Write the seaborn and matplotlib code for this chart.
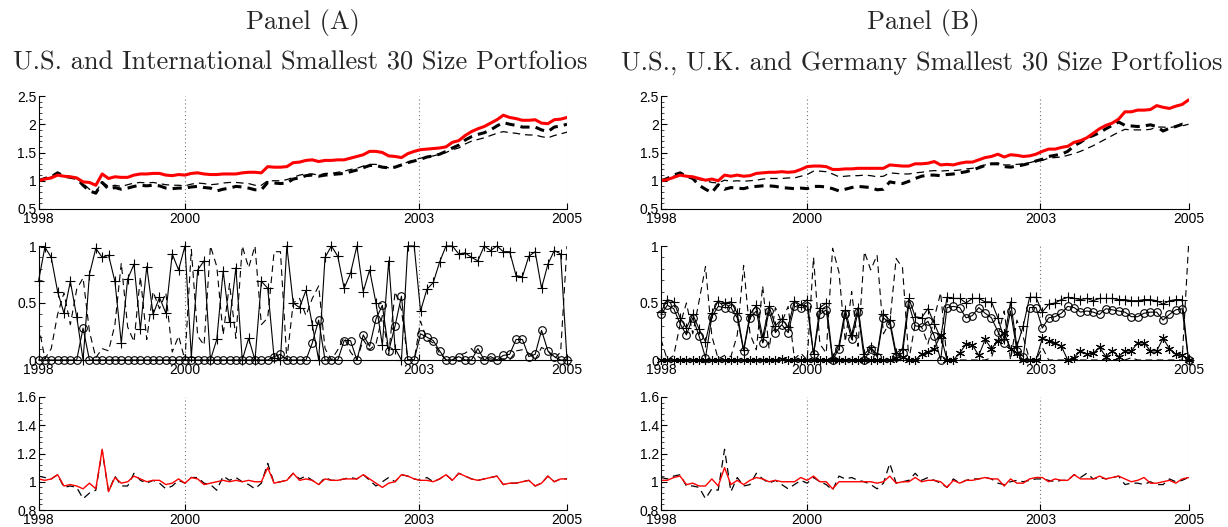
import numpy as np
import pandas as pd
import matplotlib
matplotlib.use("Agg")
import matplotlib.pyplot as plt
import seaborn as sns
from matplotlib.ticker import FixedLocator, FixedFormatter, AutoMinorLocator

# ---------------- data ----------------
months = np.arange(84)
year_tick_pos = [0, 23, 59.7, 83]
year_labels = ["1998", "2000", "2003", "2005"]

# Panel A, top: cumulative wealth
a_cum_red = [1.00, 1.03, 1.05, 1.10, 1.08, 1.07, 1.05, 0.98, 0.97, 0.92, 1.12, 1.04,
             1.07, 1.06, 1.06, 1.10, 1.12, 1.12, 1.13, 1.13, 1.10, 1.09, 1.11, 1.10,
             1.13, 1.14, 1.12, 1.11, 1.11, 1.12, 1.12, 1.12, 1.14, 1.15, 1.15, 1.14,
             1.25, 1.24, 1.24, 1.25, 1.32, 1.33, 1.36, 1.37, 1.34, 1.36, 1.36, 1.37,
             1.37, 1.40, 1.43, 1.46, 1.52, 1.52, 1.50, 1.44, 1.43, 1.41, 1.48, 1.52,
             1.55, 1.56, 1.57, 1.58, 1.60, 1.68, 1.71, 1.80, 1.87, 1.92, 1.96, 2.02,
             2.08, 2.16, 2.12, 2.10, 2.07, 2.07, 2.08, 2.02, 2.01, 2.08, 2.09, 2.12]
a_cum_thick = [1.00, 1.04, 1.07, 1.14, 1.08, 1.06, 1.04, 0.92, 0.82, 0.78, 0.97, 0.85,
               0.88, 0.85, 0.87, 0.90, 0.92, 0.91, 0.92, 0.91, 0.87, 0.86, 0.87, 0.87,
               0.89, 0.90, 0.88, 0.87, 0.82, 0.85, 0.87, 0.90, 0.89, 0.87, 0.84, 0.84,
               0.97, 0.96, 0.95, 0.96, 1.03, 1.05, 1.09, 1.10, 1.08, 1.10, 1.11, 1.12,
               1.13, 1.16, 1.19, 1.23, 1.27, 1.27, 1.24, 1.23, 1.24, 1.28, 1.32, 1.35,
               1.38, 1.42, 1.44, 1.47, 1.52, 1.58, 1.63, 1.72, 1.78, 1.82, 1.85, 1.90,
               1.97, 2.03, 2.00, 1.98, 1.95, 1.95, 1.95, 1.90, 1.87, 1.95, 1.97, 2.00]
a_cum_thin = [1.00, 1.04, 1.07, 1.12, 1.08, 1.06, 1.04, 0.95, 0.85, 0.80, 0.98, 0.90,
              0.92, 0.90, 0.93, 0.96, 0.97, 0.96, 0.97, 0.95, 0.93, 0.92, 0.92, 0.91,
              0.94, 0.96, 0.95, 0.93, 0.94, 0.96, 0.97, 0.97, 0.96, 0.95, 0.92, 0.92,
              1.00, 1.00, 1.00, 1.02, 1.06, 1.10, 1.12, 1.12, 1.10, 1.13, 1.13, 1.15,
              1.17, 1.20, 1.22, 1.26, 1.29, 1.29, 1.25, 1.23, 1.25, 1.29, 1.33, 1.37,
              1.40, 1.42, 1.44, 1.47, 1.50, 1.55, 1.58, 1.65, 1.70, 1.73, 1.76, 1.80,
              1.84, 1.87, 1.85, 1.84, 1.82, 1.81, 1.81, 1.78, 1.76, 1.80, 1.83, 1.86]

# Panel A, middle: portfolio weights
a_w_plus = [0.69, 0.99, 0.90, 0.60, 0.41, 0.69, 0.38, 0.00, 0.75, 0.98, 0.90, 0.92,
            0.69, 0.15, 0.71, 0.84, 0.27, 0.82, 0.40, 0.55, 0.41, 0.93, 0.79, 1.00,
            0.03, 0.79, 0.87, 0.00, 0.18, 0.78, 0.33, 0.81, 0.00, 0.19, 0.00, 0.69,
            0.63, 0.02, 0.00, 1.00, 0.50, 0.46, 0.61, 0.31, 0.00, 0.90, 1.00, 0.91,
            0.63, 0.76, 1.00, 0.60, 0.79, 0.50, 0.13, 0.87, 0.10, 0.00, 1.00, 1.00,
            0.43, 0.62, 0.68, 0.86, 1.00, 1.00, 0.93, 0.94, 0.90, 0.87, 1.00, 0.96,
            1.00, 0.95, 0.95, 0.74, 0.73, 0.91, 0.95, 0.63, 0.84, 0.96, 0.93, 0.00]
a_w_circ = [0.00, 0.00, 0.00, 0.00, 0.00, 0.00, 0.00, 0.28, 0.00, 0.00, 0.00, 0.00,
            0.00, 0.00, 0.00, 0.00, 0.00, 0.00, 0.00, 0.00, 0.00, 0.00, 0.00, 0.00,
            0.00, 0.00, 0.00, 0.00, 0.00, 0.00, 0.00, 0.00, 0.00, 0.00, 0.00, 0.00,
            0.00, 0.03, 0.05, 0.00, 0.00, 0.00, 0.00, 0.15, 0.35, 0.00, 0.00, 0.00,
            0.17, 0.17, 0.00, 0.22, 0.12, 0.36, 0.48, 0.08, 0.30, 0.56, 0.00, 0.00,
            0.23, 0.20, 0.17, 0.08, 0.00, 0.00, 0.03, 0.00, 0.00, 0.10, 0.00, 0.03,
            0.00, 0.04, 0.05, 0.18, 0.18, 0.03, 0.05, 0.26, 0.08, 0.03, 0.00, 0.00]
a_w_dash = [0.31, 0.01, 0.10, 0.40, 0.59, 0.31, 0.62, 0.72, 0.25, 0.02, 0.10, 0.08,
            0.31, 0.85, 0.29, 0.16, 0.73, 0.18, 0.60, 0.45, 0.59, 0.07, 0.21, 0.00,
            0.97, 0.21, 0.13, 1.00, 0.82, 0.22, 0.67, 0.19, 1.00, 0.81, 1.00, 0.31,
            0.37, 0.95, 0.95, 0.00, 0.50, 0.54, 0.39, 0.54, 0.65, 0.10, 0.00, 0.09,
            0.20, 0.07, 0.00, 0.18, 0.09, 0.14, 0.39, 0.05, 0.60, 0.44, 0.00, 0.00,
            0.34, 0.18, 0.15, 0.06, 0.00, 0.00, 0.04, 0.06, 0.10, 0.03, 0.00, 0.01,
            0.00, 0.01, 0.00, 0.08, 0.09, 0.06, 0.00, 0.11, 0.08, 0.01, 0.07, 1.00]

# Panel A, bottom: monthly gross returns
a_ret_red = [1.02, 1.01, 1.02, 1.05, 0.97, 0.98, 0.97, 0.95, 0.99, 0.95, 1.23, 0.93,
             1.03, 0.99, 1.00, 1.04, 1.02, 1.00, 1.01, 1.01, 0.98, 0.99, 1.02, 0.99,
             1.03, 1.02, 0.98, 0.99, 1.00, 1.01, 1.00, 1.01, 1.00, 1.01, 1.00, 1.00,
             1.10, 0.99, 1.00, 1.01, 1.06, 1.01, 1.02, 1.01, 0.98, 1.02, 1.01, 1.01,
             1.02, 1.02, 1.02, 1.05, 1.02, 0.99, 0.96, 0.99, 1.00, 1.05, 1.04, 1.02,
             1.01, 1.01, 1.00, 1.02, 1.05, 1.01, 1.06, 1.04, 1.02, 1.01, 1.02, 1.03,
             1.04, 0.98, 0.99, 0.99, 1.00, 1.01, 0.97, 0.99, 1.04, 1.00, 1.02, 1.02]
a_ret_dash = [1.04, 1.03, 1.02, 1.05, 0.96, 0.97, 0.96, 0.88, 0.92, 0.94, 1.22, 0.93,
              1.04, 0.97, 0.97, 1.06, 1.01, 0.99, 1.01, 0.99, 0.95, 0.97, 1.01, 0.99,
              1.03, 1.03, 0.99, 0.98, 0.94, 1.04, 1.01, 1.03, 1.00, 0.98, 0.95, 0.99,
              1.13, 0.99, 1.00, 1.01, 1.06, 1.02, 1.04, 1.01, 0.98, 1.03, 1.01, 1.01,
              1.02, 1.03, 1.02, 1.05, 1.01, 0.97, 1.00, 1.03, 1.00, 1.05, 1.04, 1.02,
              1.01, 1.03, 1.00, 1.02, 1.05, 1.01, 1.06, 1.04, 1.02, 1.01, 1.02, 1.03,
              1.04, 0.98, 0.99, 0.99, 1.00, 1.01, 0.97, 0.99, 1.04, 1.00, 1.02, 1.02]

# Panel B, top
b_cum_red = [1.00, 1.02, 1.06, 1.10, 1.08, 1.07, 1.04, 1.01, 1.03, 1.00, 1.10, 1.08,
             1.10, 1.08, 1.09, 1.13, 1.14, 1.15, 1.15, 1.16, 1.15, 1.16, 1.20, 1.25,
             1.26, 1.26, 1.25, 1.20, 1.20, 1.21, 1.21, 1.22, 1.22, 1.22, 1.22, 1.22,
             1.28, 1.27, 1.26, 1.26, 1.30, 1.30, 1.31, 1.34, 1.28, 1.29, 1.28, 1.31,
             1.33, 1.33, 1.37, 1.41, 1.43, 1.47, 1.42, 1.46, 1.45, 1.43, 1.44, 1.47,
             1.52, 1.56, 1.56, 1.59, 1.61, 1.68, 1.71, 1.76, 1.84, 1.92, 1.98, 2.02,
             2.09, 2.22, 2.22, 2.25, 2.25, 2.26, 2.33, 2.30, 2.28, 2.32, 2.35, 2.43]
b_cum_thick = [1.00, 1.04, 1.10, 1.14, 1.08, 1.04, 0.92, 0.85, 0.79, 0.93, 0.85, 0.88,
               0.87, 0.86, 0.89, 0.90, 0.91, 0.91, 0.90, 0.88, 0.87, 0.86, 0.87, 0.86,
               0.90, 0.90, 0.89, 0.86, 0.82, 0.85, 0.88, 0.90, 0.89, 0.88, 0.84, 0.85,
               0.98, 0.96, 0.95, 0.99, 1.04, 1.08, 1.10, 1.10, 1.09, 1.11, 1.12, 1.14,
               1.16, 1.19, 1.23, 1.27, 1.30, 1.30, 1.25, 1.24, 1.26, 1.28, 1.31, 1.35,
               1.38, 1.43, 1.45, 1.47, 1.52, 1.62, 1.68, 1.76, 1.80, 1.85, 1.92, 1.98,
               2.04, 1.98, 1.97, 1.96, 1.97, 1.99, 1.96, 1.88, 1.93, 1.96, 2.00, 2.01]
b_cum_thin = [1.00, 1.04, 1.08, 1.12, 1.08, 1.05, 1.02, 1.00, 0.97, 0.96, 1.01, 0.99,
              1.00, 0.99, 1.00, 1.01, 1.03, 1.04, 1.04, 1.04, 1.05, 1.05, 1.08, 1.11,
              1.17, 1.17, 1.16, 1.12, 1.07, 1.08, 1.09, 1.09, 1.10, 1.09, 1.07, 1.08,
              1.14, 1.13, 1.12, 1.12, 1.14, 1.15, 1.17, 1.18, 1.17, 1.18, 1.18, 1.19,
              1.21, 1.22, 1.25, 1.28, 1.30, 1.31, 1.28, 1.28, 1.29, 1.30, 1.32, 1.35,
              1.36, 1.40, 1.41, 1.42, 1.45, 1.48, 1.52, 1.57, 1.62, 1.68, 1.74, 1.80,
              1.86, 1.91, 1.90, 1.90, 1.90, 1.91, 1.95, 1.95, 1.94, 1.96, 1.97, 2.00]

# Panel B, middle
b_w_plus = [0.42, 0.53, 0.51, 0.37, 0.28, 0.40, 0.27, 0.16, 0.41, 0.52, 0.50, 0.51,
            0.41, 0.09, 0.40, 0.48, 0.20, 0.47, 0.30, 0.36, 0.29, 0.52, 0.48, 0.53,
            0.05, 0.46, 0.50, 0.02, 0.13, 0.44, 0.22, 0.46, 0.05, 0.11, 0.05, 0.40,
            0.35, 0.06, 0.10, 0.54, 0.38, 0.37, 0.45, 0.32, 0.19, 0.55, 0.54, 0.54,
            0.50, 0.54, 0.54, 0.51, 0.51, 0.37, 0.18, 0.51, 0.12, 0.30, 0.55, 0.55,
            0.42, 0.49, 0.50, 0.53, 0.55, 0.54, 0.53, 0.54, 0.52, 0.54, 0.54, 0.54,
            0.53, 0.53, 0.52, 0.52, 0.53, 0.53, 0.52, 0.49, 0.52, 0.53, 0.53, 0.00]
b_w_circ = [0.40, 0.48, 0.45, 0.32, 0.22, 0.37, 0.21, 0.02, 0.38, 0.47, 0.46, 0.46,
            0.37, 0.08, 0.37, 0.43, 0.15, 0.43, 0.24, 0.31, 0.24, 0.47, 0.46, 0.47,
            0.05, 0.40, 0.44, 0.00, 0.10, 0.40, 0.18, 0.42, 0.00, 0.10, 0.03, 0.37,
            0.32, 0.03, 0.06, 0.49, 0.30, 0.29, 0.34, 0.21, 0.00, 0.46, 0.47, 0.46,
            0.37, 0.39, 0.46, 0.41, 0.37, 0.25, 0.15, 0.43, 0.08, 0.03, 0.46, 0.46,
            0.28, 0.37, 0.38, 0.41, 0.47, 0.46, 0.42, 0.43, 0.42, 0.40, 0.45, 0.44,
            0.43, 0.42, 0.38, 0.38, 0.41, 0.42, 0.42, 0.35, 0.40, 0.44, 0.45, 0.00]
b_w_star = [0.00, 0.00, 0.00, 0.00, 0.00, 0.00, 0.00, 0.00, 0.00, 0.00, 0.00, 0.00,
            0.00, 0.00, 0.00, 0.00, 0.00, 0.00, 0.00, 0.01, 0.00, 0.00, 0.00, 0.00,
            0.00, 0.00, 0.00, 0.00, 0.00, 0.00, 0.00, 0.00, 0.00, 0.00, 0.00, 0.00,
            0.00, 0.02, 0.03, 0.00, 0.00, 0.05, 0.07, 0.10, 0.22, 0.00, 0.00, 0.06,
            0.14, 0.13, 0.04, 0.18, 0.10, 0.17, 0.24, 0.10, 0.06, 0.00, 0.00, 0.00,
            0.19, 0.17, 0.15, 0.12, 0.00, 0.02, 0.08, 0.05, 0.06, 0.11, 0.03, 0.08,
            0.03, 0.08, 0.08, 0.15, 0.15, 0.08, 0.08, 0.19, 0.10, 0.05, 0.04, 0.00]
b_w_dash = [0.18, 0.00, 0.04, 0.31, 0.50, 0.23, 0.52, 0.82, 0.21, 0.01, 0.04, 0.03,
            0.22, 0.83, 0.23, 0.09, 0.65, 0.10, 0.46, 0.33, 0.47, 0.01, 0.06, 0.00,
            0.90, 0.14, 0.06, 0.98, 0.77, 0.16, 0.60, 0.12, 0.95, 0.79, 0.92, 0.23,
            0.33, 0.89, 0.81, 0.00, 0.32, 0.29, 0.14, 0.37, 0.59, 0.00, 0.00, 0.00,
            0.00, 0.00, 0.00, 0.00, 0.02, 0.21, 0.43, 0.00, 0.35, 0.20, 0.00, 0.00,
            0.11, 0.00, 0.00, 0.00, 0.00, 0.00, 0.00, 0.00, 0.00, 0.00, 0.00, 0.00,
            0.01, 0.00, 0.02, 0.00, 0.00, 0.00, 0.00, 0.00, 0.00, 0.00, 0.00, 1.00]

# Panel B, bottom
b_ret_red = [1.01, 1.01, 1.03, 1.04, 0.98, 0.99, 0.97, 0.97, 1.02, 0.97, 1.10, 0.98,
             1.01, 0.98, 1.01, 1.03, 1.02, 1.00, 1.01, 1.00, 1.00, 1.00, 1.03, 1.01,
             1.04, 1.00, 1.00, 0.95, 1.00, 1.00, 1.00, 1.00, 1.00, 1.00, 0.99, 1.00,
             1.04, 0.99, 1.00, 1.00, 1.03, 1.00, 1.01, 1.01, 1.00, 0.96, 1.01, 0.99,
             1.01, 1.01, 1.02, 1.03, 1.02, 1.02, 0.97, 1.02, 0.99, 0.99, 1.02, 1.03,
             1.03, 1.00, 1.02, 1.01, 1.01, 1.05, 1.02, 1.02, 1.02, 1.04, 1.02, 1.03,
             1.04, 1.02, 1.00, 1.01, 1.03, 0.99, 0.99, 1.00, 1.01, 0.99, 1.02, 1.03]
b_ret_dash = [1.03, 1.02, 1.04, 1.05, 0.97, 0.97, 0.96, 0.88, 0.95, 0.94, 1.23, 0.93,
              1.03, 0.97, 0.98, 1.06, 1.02, 0.99, 1.01, 0.98, 0.95, 0.98, 1.01, 0.99,
              1.03, 1.00, 0.98, 0.94, 1.04, 1.02, 1.03, 1.01, 1.00, 0.98, 0.95, 0.99,
              1.13, 0.99, 1.00, 1.01, 1.06, 1.01, 1.03, 1.01, 0.99, 0.96, 1.02, 0.99,
              1.01, 1.02, 1.02, 1.03, 1.02, 0.99, 0.98, 1.00, 1.01, 1.00, 1.01, 1.02,
              1.02, 1.01, 1.00, 1.01, 1.01, 1.05, 1.03, 1.06, 1.02, 1.03, 1.02, 1.03,
              1.04, 0.98, 0.99, 0.99, 0.98, 1.00, 0.98, 0.98, 1.02, 1.00, 1.01, 1.03]

top_ticks = [0.5, 1, 1.5, 2, 2.5]
top_labels = ["0.5", "1", "1.5", "2", "2.5"]
mid_ticks = [0, 0.5, 1]
mid_labels = ["0", "0.5", "1"]
bot_ticks = [0.8, 1, 1.2, 1.4, 1.6]
bot_labels = ["0.8", "1", "1.2", "1.4", "1.6"]

panel_titles = ["Panel (A)", "Panel (B)"]
panel_subtitles = ["U.S. and International Smallest 30 Size Portfolios",
                   "U.S., U.K. and Germany Smallest 30 Size Portfolios"]

# ---------------- style ----------------
sns.set_theme(style="ticks")
plt.rcParams["font.family"] = ["Liberation Sans", "DejaVu Sans"]

fig = plt.figure(figsize=(12.28, 5.27), dpi=100)

W, H = 1228.0, 527.0
col_left = [38.5 / W, 661.0 / W]
col_width = [528.5 / W, 527.5 / W]
rows = [(96, 209), (246, 360), (397, 510)]  # pixel top/bottom of each row


def make_ax(col, row):
    top, bot = rows[row]
    return fig.add_axes([col_left[col], 1 - bot / H, col_width[col], (bot - top) / H])


def style_ax(ax, yticks, ylabels, ylim):
    ax.set_xlim(0, 83)
    ax.set_ylim(*ylim)
    ax.xaxis.set_major_locator(FixedLocator(year_tick_pos))
    ax.xaxis.set_major_formatter(FixedFormatter(year_labels))
    ax.yaxis.set_major_locator(FixedLocator(yticks))
    ax.yaxis.set_major_formatter(FixedFormatter(ylabels))
    ax.yaxis.set_minor_locator(AutoMinorLocator(5))
    ax.tick_params(axis="both", which="major", direction="in", length=4, width=0.8,
                   labelsize=10, colors="black")
    ax.tick_params(axis="x", which="major", pad=2.5)
    ax.tick_params(axis="y", which="major", pad=1.5)
    ax.tick_params(axis="y", which="minor", direction="in", length=2, width=0.6)
    for s in ["top", "right"]:
        ax.spines[s].set_visible(False)
    for s in ["left", "bottom"]:
        ax.spines[s].set_color("black")
        ax.spines[s].set_linewidth(0.8)
    ax.set_facecolor("white")
    ax.grid(False)
    for xp in year_tick_pos[1:]:
        ax.axvline(xp, color="0.45", lw=0.8, ls=(0, (1, 2.5)), zorder=0)
    ax.set_xlabel("")
    ax.set_ylabel("")


def line(ax, y, **kw):
    sns.lineplot(x=months, y=y, ax=ax, errorbar=None, legend=False, **kw)


datasets = [
    dict(cum=(a_cum_red, a_cum_thick, a_cum_thin),
         w=(a_w_dash, a_w_plus, a_w_circ, None),
         ret=(a_ret_dash, a_ret_red)),
    dict(cum=(b_cum_red, b_cum_thick, b_cum_thin),
         w=(b_w_dash, b_w_plus, b_w_circ, b_w_star),
         ret=(b_ret_dash, b_ret_red)),
]

for col, d in enumerate(datasets):
    # top
    ax = make_ax(col, 0)
    red, thick, thin = d["cum"]
    line(ax, thin, color="black", lw=0.9, ls=(0, (6, 4)))
    line(ax, thick, color="black", lw=2.2, ls=(0, (3, 2)))
    line(ax, red, color="red", lw=2.2)
    style_ax(ax, top_ticks, top_labels, (0.5, 2.5))

    # middle
    ax = make_ax(col, 1)
    dash, plus, circ, star = d["w"]
    line(ax, dash, color="black", lw=0.8, ls=(0, (6, 4)))
    line(ax, plus, color="black", lw=0.8, marker="+", ms=7, mec="black", mew=0.8,
         clip_on=False)
    line(ax, circ, color="black", lw=0.8, marker="o", ms=5.5, mfc="none", mec="black",
         mew=0.8, clip_on=False)
    if star is not None:
        line(ax, star, color="black", lw=0.8, marker=(6, 2, 0), ms=6.5, mec="black",
             mew=0.8, clip_on=False)
    style_ax(ax, mid_ticks, mid_labels, (0, 1))

    # bottom
    ax = make_ax(col, 2)
    rdash, rred = d["ret"]
    line(ax, rdash, color="black", lw=0.9, ls=(0, (6, 4)))
    line(ax, rred, color="red", lw=1.0)
    style_ax(ax, bot_ticks, bot_labels, (0.8, 1.6))

# titles
title_x = [302.5 / W, 923.0 / W]
sub_x = [300.0 / W, 922.0 / W]
for col in range(2):
    fig.text(title_x[col], 1 - 22 / H, panel_titles[col], ha="center", va="center",
             family="cmr10", fontsize=19)
    fig.text(sub_x[col], 1 - 63 / H, panel_subtitles[col], ha="center", va="center",
             family="cmr10", fontsize=19)

fig.savefig("out.png", dpi=100, facecolor="white")
